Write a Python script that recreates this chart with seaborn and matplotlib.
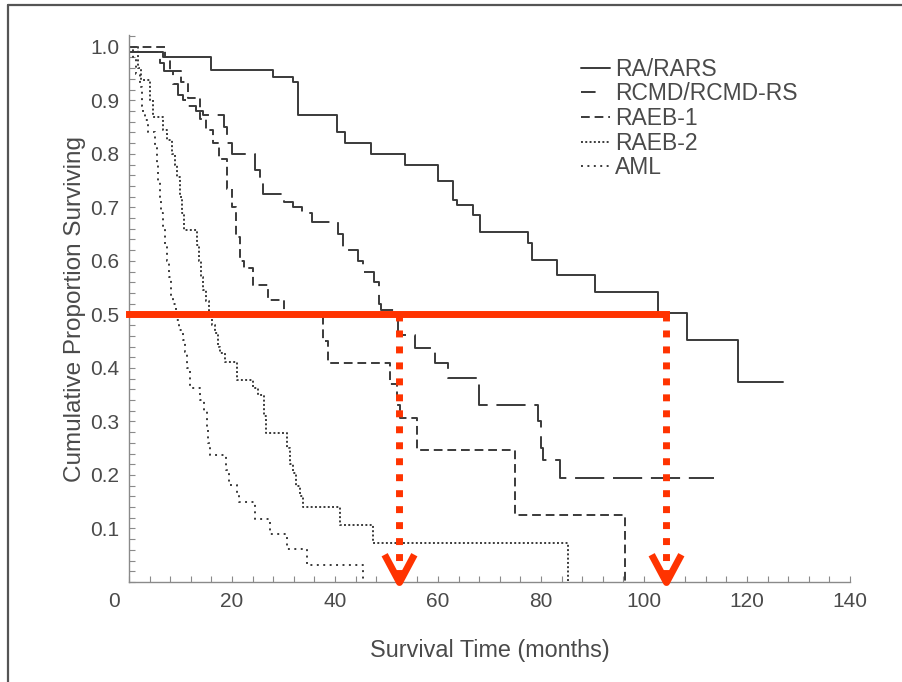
import numpy as np
import pandas as pd
import matplotlib
matplotlib.use("Agg")
import matplotlib.pyplot as plt
from matplotlib.lines import Line2D
from matplotlib.path import Path
import seaborn as sns

INK  = "#3a3a3a"
GREY = "#8a8a8a"
TXT  = "#4a4a4a"
RED  = "#FF3300"

groups = ["RA/RARS", "RCMD/RCMD-RS", "RAEB-1", "RAEB-2", "AML"]

# Kaplan-Meier step curves: time of each step (months) and survival after it
ra_t = [0, 6.6, 16, 28, 31.8, 32.8, 40.4, 42, 47, 53.6, 60, 62.9, 63.7, 66.8,
        68.2, 77.5, 78.3, 83.1, 90.5, 102.7, 108.3, 118.3, 127]
ra_s = [0.99, 0.98, 0.957, 0.944, 0.935, 0.873, 0.841, 0.82, 0.80, 0.78, 0.75,
        0.714, 0.705, 0.686, 0.654, 0.634, 0.602, 0.574, 0.542, 0.503, 0.452,
        0.374, 0.374]

rcmd_t = [0, 6.0, 6.8, 8.5, 9.5, 10.5, 11.5, 13.0, 14.3, 18.5, 19.0, 20.0, 24.5,
          25.5, 26.0, 30.0, 31.8, 33.5, 35.5, 40.6, 41.5, 44.5, 45.5, 47.5, 48.5,
          49.0, 52.2, 55.5, 59.5, 62.0, 68.0, 79.5, 80.0, 80.4, 83.7, 113.5]
rcmd_s = [0.99, 0.97, 0.955, 0.93, 0.91, 0.90, 0.89, 0.88, 0.873, 0.85, 0.82,
          0.80, 0.77, 0.745, 0.725, 0.71, 0.70, 0.69, 0.673, 0.65, 0.62, 0.60,
          0.58, 0.56, 0.52, 0.508, 0.462, 0.437, 0.41, 0.381, 0.331, 0.30, 0.25,
          0.228, 0.194, 0.194]

raeb1_t = [0, 7.0, 8.0, 10.0, 11.5, 13.8, 15.0, 16.3, 17.5, 19.0, 20.0, 20.8,
           21.5, 22.3, 24.0, 27.0, 30.0, 37.7, 38.6, 50.7, 52.0, 52.6, 56.0,
           75.0, 96.3]
raeb1_s = [1.0, 0.98, 0.955, 0.935, 0.905, 0.865, 0.845, 0.82, 0.79, 0.735,
           0.70, 0.645, 0.60, 0.587, 0.555, 0.527, 0.497, 0.45, 0.409, 0.37,
           0.33, 0.307, 0.247, 0.125, 0.0]

raeb2_t = [0, 1.7, 2.4, 4.1, 4.6, 6.6, 7.3, 8.3, 8.9, 9.3, 9.9, 10.3, 10.6, 13.2,
           13.6, 14.0, 14.4, 14.9, 15.5, 16.1, 16.7, 17.2, 17.7, 18.6, 21.0,
           24.0, 25.0, 26.2, 26.6, 30.7, 31.2, 31.8, 32.5, 33.2, 33.8, 41.0,
           47.4, 85.2]
raeb2_s = [1.0, 0.96, 0.938, 0.90, 0.869, 0.845, 0.826, 0.80, 0.78, 0.757, 0.72,
           0.69, 0.658, 0.63, 0.60, 0.57, 0.546, 0.525, 0.50, 0.48, 0.465, 0.44,
           0.428, 0.411, 0.378, 0.362, 0.35, 0.31, 0.278, 0.25, 0.22, 0.204,
           0.18, 0.16, 0.14, 0.107, 0.073, 0.0]

aml_t = [0, 0.8, 1.3, 2.1, 2.5, 2.8, 3.2, 3.7, 5.0, 5.4, 5.7, 6.0, 6.3, 6.6, 7.0,
         7.4, 7.8, 8.2, 8.6, 9.2, 9.8, 10.4, 10.9, 11.3, 11.8, 13.8, 14.5, 15.1,
         15.4, 15.7, 18.8, 19.4, 21.0, 21.4, 24.5, 27.4, 30.7, 34.6, 45.4]
aml_s = [1.0, 0.98, 0.95, 0.925, 0.89, 0.877, 0.864, 0.84, 0.81, 0.78, 0.75,
         0.72, 0.69, 0.665, 0.63, 0.60, 0.57, 0.535, 0.52, 0.49, 0.47, 0.452,
         0.43, 0.40, 0.362, 0.34, 0.32, 0.29, 0.26, 0.237, 0.21, 0.181, 0.163,
         0.15, 0.118, 0.09, 0.062, 0.032, 0.0]

medians = [52.5, 104.3]   # read-off points marked in red
median_level = 0.5

DASHES = {"RA/RARS": "", "RCMD/RCMD-RS": (15, 4.5), "RAEB-1": (4.5, 2.5),
          "RAEB-2": (1, 1.2), "AML": (1, 2.3)}
# legend swatches are short, RCMD shows only a single dash there
LEG_STYLE = ["-", (0, (7.5, 30)), (0, (4.5, 2.5)), (0, (1, 1.2)), (0, (1, 2.3))]

curves = {"RA/RARS": (ra_t, ra_s), "RCMD/RCMD-RS": (rcmd_t, rcmd_s),
          "RAEB-1": (raeb1_t, raeb1_s), "RAEB-2": (raeb2_t, raeb2_s),
          "AML": (aml_t, aml_s)}
df = pd.concat([pd.DataFrame({"month": t, "surv": s, "group": g})
                for g, (t, s) in curves.items()], ignore_index=True)

sns.set_style("ticks")
plt.rcParams["font.family"] = ["Liberation Sans", "DejaVu Sans"]

fig = plt.figure(figsize=(9.02, 6.82), dpi=100, facecolor="white")
ax = fig.add_axes([129/902, 100/682, 721/902, 547/682])

sns.lineplot(data=df, x="month", y="surv", hue="group", style="group",
             hue_order=groups, style_order=groups, palette=[INK]*5,
             dashes=DASHES, drawstyle="steps-post", estimator=None,
             linewidth=1.4, legend=False, ax=ax)

# red median read-off
ax.plot([0, max(medians)], [median_level]*2, color=RED, lw=5, clip_on=False,
        solid_capstyle="projecting", zorder=5)
chevron = Path([(-1, 1.87), (0, 0), (1, 1.87)],
               [Path.MOVETO, Path.LINETO, Path.LINETO])
for m in medians:
    ax.plot([m, m], [median_level, 0.01], color=RED, lw=5,
            linestyle=(0, (1, 1.3)), dash_capstyle="butt", zorder=5)
    ax.plot([m], [0], marker=chevron, markersize=40, markeredgewidth=5,
            markeredgecolor=RED, markerfacecolor="none", clip_on=False,
            zorder=6)

ax.set_xlim(0, 140)
ax.set_ylim(0, 1.022)
ax.set_xticks(np.arange(0, 141, 20))
ax.set_xticklabels(["0     "] + [str(v) for v in range(20, 141, 20)])
ax.set_xticks(np.arange(0, 141, 4), minor=True)
yt = np.round(np.arange(0.1, 1.01, 0.1), 1)
ax.set_yticks(yt)
ax.set_yticklabels([f"{v:.1f}" for v in yt])
ax.set_yticks(np.arange(0, 1.021, 0.02), minor=True)
ax.tick_params(which="both", direction="in", length=4, width=0.8,
               color=GREY, labelsize=15, labelcolor=TXT, pad=7)

sns.despine(ax=ax)
for sp in ["left", "bottom"]:
    ax.spines[sp].set_color(GREY)
    ax.spines[sp].set_linewidth(1.0)

ax.set_xlabel("Survival Time (months)", fontsize=16.8, color=TXT, labelpad=20)
ax.set_ylabel("Cumulative Proportion Surviving", fontsize=17.5, color=TXT,
              labelpad=3)

handles = [Line2D([], [], color=INK, lw=1.4, linestyle=ls) for ls in LEG_STYLE]
ax.legend(handles, groups, loc="upper left", bbox_to_anchor=(0.614, 0.975),
          frameon=False, handlelength=1.25, handletextpad=0.25,
          labelspacing=0.07, fontsize=16.5, labelcolor=TXT, borderaxespad=0)

# page frame (left and top edges)
fig.add_artist(Line2D([8/902, 8/902], [0, 1 - 5/682], transform=fig.transFigure,
                      color="#555555", lw=1.6))
fig.add_artist(Line2D([8/902, 1], [1 - 5/682]*2, transform=fig.transFigure,
                      color="#555555", lw=1.6))

fig.savefig("out.png", dpi=100, facecolor="white")
